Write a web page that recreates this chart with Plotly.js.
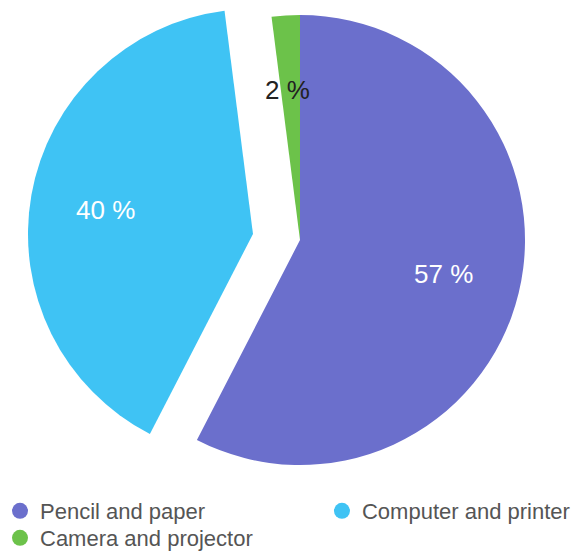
<!DOCTYPE html>
<html><head><meta charset="utf-8">
<script src="https://cdn.plot.ly/plotly-3.0.1.min.js"></script>
<style>html,body{margin:0;padding:0;background:#fff}</style>
</head><body>
<div id="chart" style="width:577px;height:552px"></div>
<script>
const categories = ['Pencil and paper', 'Computer and printer', 'Camera and projector'];
const shares = [57, 40, 2];
const colors = ['#6b6fcc', '#3fc3f4', '#6cc24a'];
const labelsText = shares.map(v => v + ' %');
const legendOf = ['legend', 'legend2', 'legend3'];
const pulledIndex = 1;
const TRANSPARENT = 'rgba(0,0,0,0)';

const baseDomain = {x: [0.13, 0.9099], y: [0.1576, 0.9728]};
const pullDomain = {x: [0.0485, 0.8284], y: [0.1685, 0.9837]};
const labelPos = [[0.7678, 0.5036], [0.182, 0.6196], [0.4991, 0.837]];
const labelColor = ['#ffffff', '#ffffff', '#222222'];
const legendPos = [[0, 0.1123], [0.558, 0.1123], [0, 0.0634]];

function pieTrace(showIdx, domain) {
  return {
    type: 'pie',
    labels: categories,
    values: shares,
    sort: false,
    direction: 'clockwise',
    rotation: 0,
    domain: domain,
    marker: {colors: colors.map((c, i) => showIdx.includes(i) ? c : TRANSPARENT), line: {width: 0}},
    textinfo: 'none',
    hoverinfo: 'skip',
    showlegend: false
  };
}

const traces = [
  pieTrace([0, 2], baseDomain),
  pieTrace([pulledIndex], pullDomain)
];

categories.forEach((name, i) => {
  traces.push({
    type: 'scatter', mode: 'markers', x: [null], y: [null],
    name: name,
    legend: legendOf[i],
    marker: {color: colors[i], size: 16, symbol: 'circle'},
    showlegend: true, hoverinfo: 'skip'
  });
});

const legendFont = {size: 22, color: '#555555', family: 'Liberation Sans, Arial, sans-serif'};

const layout = {
  width: 577, height: 552,
  margin: {l: 0, r: 0, t: 0, b: 0, autoexpand: false},
  paper_bgcolor: '#ffffff', plot_bgcolor: '#ffffff',
  xaxis: {visible: false}, yaxis: {visible: false},
  annotations: labelsText.map((t, i) => ({
    xref: 'paper', yref: 'paper', x: labelPos[i][0], y: labelPos[i][1],
    xanchor: 'center', yanchor: 'middle',
    text: t, showarrow: false,
    font: {size: 26, color: labelColor[i], family: 'Liberation Sans, Arial, sans-serif'}
  }))
};
legendOf.forEach((key, i) => {
  layout[key] = {x: legendPos[i][0], xanchor: 'left', y: legendPos[i][1], yanchor: 'top',
                 orientation: 'v', font: legendFont, bgcolor: 'rgba(0,0,0,0)'};
});

Plotly.newPlot('chart', traces, layout, {displayModeBar: false, staticPlot: true});
</script>
</body></html>
